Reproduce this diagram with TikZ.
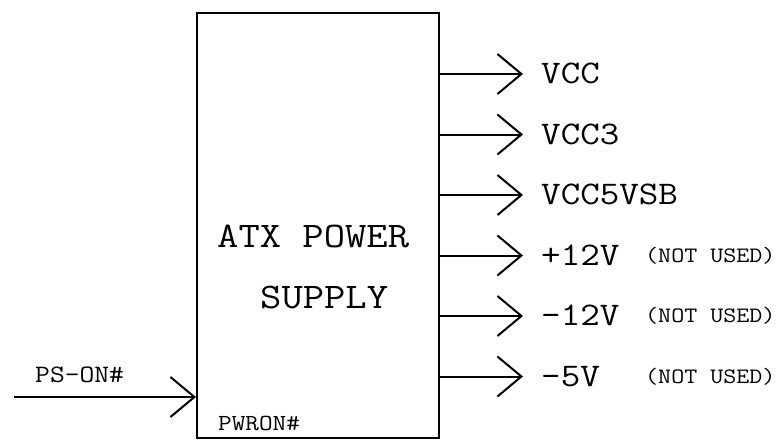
\documentclass[tikz,border=0pt]{standalone}
\usepackage{fontspec}
\setmonofont{Latin Modern Mono}[FakeStretch=1.15]
\usetikzlibrary{arrows.meta}
\tikzset{
	pin/.style={line width=2pt,-{Straight Barb[length=24pt,width=40pt]}},
	rail/.style={inner sep=0pt,anchor=base west,font=\ttfamily\fontsize{33}{33}\selectfont},
	note/.style={inner sep=0pt,anchor=base west,font=\ttfamily\fontsize{22}{22}\selectfont},
	signal/.style={inner sep=0pt,anchor=base west,font=\ttfamily\fontsize{25}{25}\selectfont}
}
\begin{document}
\begin{tikzpicture}[x=1pt,y=-1pt]
	\useasboundingbox (0,0) rectangle (784,444); % Fixes the picture...
		\node[draw,line width=2pt,minimum width=241.5pt,minimum height=425pt,inner sep=0pt] (PSU) at (317.75,225.5) {};
		\node[inner sep=0pt,anchor=base west,font=\ttfamily\fontsize{36}{36}\selectfont] (TitleA) at (217,247) {ATX POWER};
		\node[inner sep=0pt,anchor=base west,font=\ttfamily\fontsize{36}{36}\selectfont] (TitleB) at (260,308) {SUPPLY};
		\coordinate (RailCol) at (541,0);
		\coordinate (NoteCol) at (645,0);

		\foreach \Y/\Rail [count=\i] in {74/VCC,134.5/VCC3,195/VCC5VSB,255.5/+12V,316/-12V,376.5/-5V}{
			\coordinate (Tip\i) at (523,\Y);
			\draw[pin] (PSU.east |- Tip\i) -- (Tip\i);% Draw output pin
			\node[rail,yshift=-9.5pt] (Rail\i) at (Tip\i -| RailCol) {\Rail};
		}
		\foreach \i in {4,5,6}{\node[note,yshift=-6.5pt] (Note\i) at (Tip\i -| NoteCol) {(NOT USED)};}

		\coordinate (InStart) at (14,397);
		\draw[pin] (InStart) -- (InStart -| PSU.west);% Draw input pin
		\node[signal] (PsOn) at (35,382) {PS-ON\#};
		\node[signal,font=\ttfamily\fontsize{23}{23}\selectfont] (PwrOn) at (218,430) {PWRON\#};
	\end{tikzpicture}
\end{document}
